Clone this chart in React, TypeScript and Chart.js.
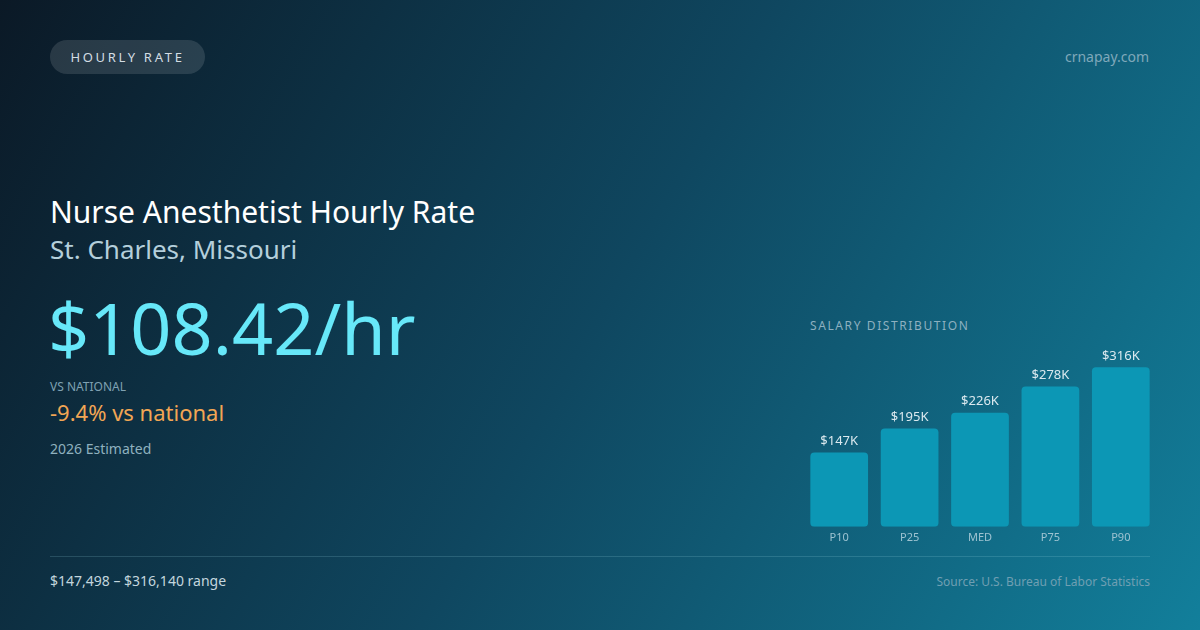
import { useEffect, useRef } from 'react'
import { Chart, registerables } from 'chart.js'

Chart.register(...registerables)

const labels = ['P10', 'P25', 'MED', 'P75', 'P90']
const salaries = [147, 195, 226, 278, 316] // $K
const valueLabels = ['$147K', '$195K', '$226K', '$278K', '$316K']

const FONT = '"Noto Sans", "Open Sans", sans-serif'

const barValueLabels = {
  id: 'barValueLabels',
  afterDatasetsDraw(chart: Chart) {
    const { ctx } = chart
    const meta = chart.getDatasetMeta(0)
    ctx.save()
    ctx.font = `13px ${FONT}`
    ctx.fillStyle = '#dbe9ef'
    ctx.textAlign = 'center'
    ctx.textBaseline = 'bottom'
    meta.data.forEach((bar: any, i: number) => {
      ctx.fillText(valueLabels[i], bar.x, bar.y - 5)
    })
    ctx.restore()
  },
}

function SalaryBars() {
  const canvasRef = useRef<HTMLCanvasElement>(null)
  const chartRef = useRef<Chart | null>(null)

  useEffect(() => {
    if (!canvasRef.current) return
    if (chartRef.current) chartRef.current.destroy()

    chartRef.current = new Chart(canvasRef.current, {
      type: 'bar',
      data: {
        labels,
        datasets: [{
          data: salaries,
          backgroundColor: '#0c97b5',
          borderRadius: 4,
          borderSkipped: false,
          barPercentage: 0.82,
          categoryPercentage: 1,
        }],
      },
      options: {
        responsive: true,
        maintainAspectRatio: false,
        animation: false,
        layout: { padding: 0 },
        plugins: { legend: { display: false }, tooltip: { enabled: false } },
        scales: {
          x: {
            grid: { display: false, drawTicks: false },
            border: { display: false },
            ticks: { color: '#9ec3d1', font: { size: 11, family: FONT }, padding: 4 },
          },
          y: { display: false, min: 0, max: 384 },
        },
      },
      plugins: [barValueLabels],
    })

    return () => { chartRef.current?.destroy() }
  }, [])

  return (
    <div style={{ position: 'absolute', left: 804, top: 333, width: 352, height: 215 }}>
      <canvas ref={canvasRef} role="img" aria-label="Salary distribution bar chart" />
    </div>
  )
}

export default function App() {
  useEffect(() => { document.body.style.margin = '0' }, [])

  const abs = (s: React.CSSProperties): React.CSSProperties => ({ position: 'absolute', whiteSpace: 'nowrap', ...s })

  return (
    <div style={{
      position: 'relative', width: 1200, height: 630, overflow: 'hidden', fontFamily: FONT,
      background: 'linear-gradient(120deg, #0b1926 0%, #0f4760 50%, #127f9b 100%)',
    }}>
      <div style={abs({
        left: 50, top: 40, width: 155, height: 34, borderRadius: 17, background: 'rgba(255,255,255,0.12)',
        color: '#d3dde3', fontSize: 13, letterSpacing: 2.7, lineHeight: '34px', textAlign: 'center',
      })}>HOURLY RATE</div>
      <div style={abs({ right: 51, top: 47, fontSize: 14, color: '#7fa8ba' })}>crnapay.com</div>

      <div style={abs({ left: 50, top: 191, fontSize: 30, color: '#ffffff' })}>Nurse Anesthetist Hourly Rate</div>
      <div style={abs({ left: 50, top: 231, fontSize: 26, color: '#b4cfdb' })}>St. Charles, Missouri</div>
      <div style={abs({ left: 48, top: 277, fontSize: 72, color: '#67e8f9', lineHeight: '100px' })}>$108.42/hr</div>
      <div style={abs({ left: 50, top: 378, fontSize: 12, color: '#7fa1b2' })}>VS NATIONAL</div>
      <div style={abs({ left: 50, top: 397, fontSize: 22, color: '#f2a654' })}>-9.4% vs national</div>
      <div style={abs({ left: 50, top: 439, fontSize: 14, color: '#8fb1bf' })}>2026 Estimated</div>

      <div style={abs({ left: 810, top: 317, fontSize: 12, letterSpacing: 1.6, color: '#8db0c0' })}>SALARY DISTRIBUTION</div>
      <SalaryBars />

      <div style={abs({ left: 50, top: 556, width: 1100, height: 1, background: 'rgba(160,220,235,0.18)' })} />
      <div style={abs({ left: 50, top: 571, fontSize: 14, color: '#c3d6de' })}>$147,498 – $316,140 range</div>
      <div style={abs({ right: 50, top: 573, fontSize: 12, color: '#6f9fb2' })}>Source: U.S. Bureau of Labor Statistics</div>
    </div>
  )
}
